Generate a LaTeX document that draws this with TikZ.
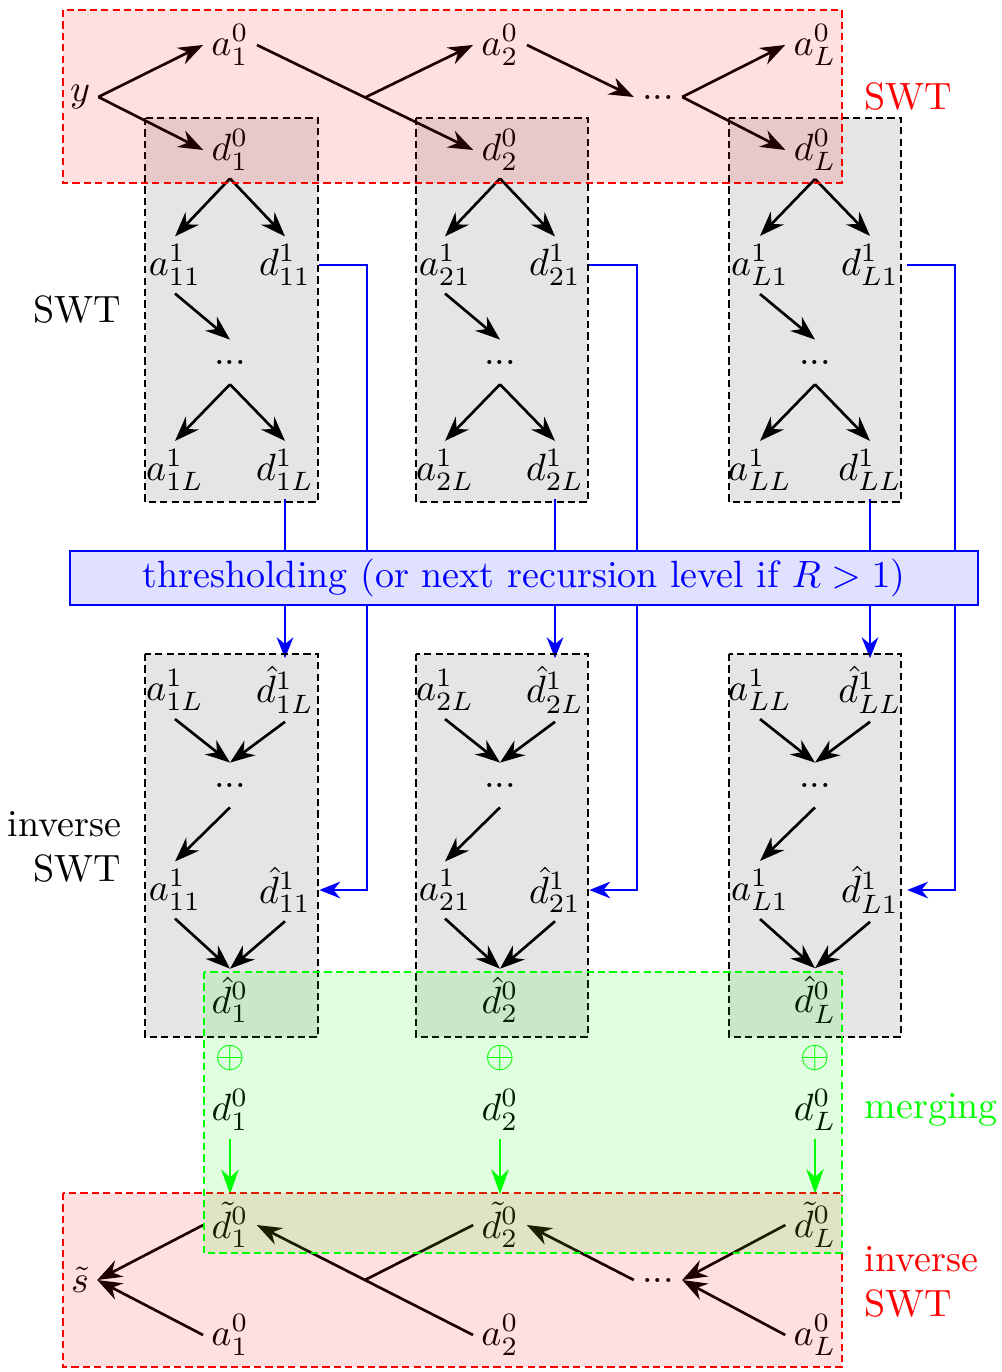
\documentclass[tikz,border=0pt]{standalone}
\usetikzlibrary{arrows.meta,calc,backgrounds}
\begin{document}
\begin{tikzpicture}[x=0.00925cm,y=-0.00925cm,
  mn/.style={inner sep=2pt},
  dt/.style={inner xsep=2pt, inner ysep=0pt, minimum height=0.4cm},
  lbl/.style={inner sep=0pt},
  arr/.style={line width=0.7pt,-{Stealth[length=6.5pt,width=4.8pt]}},
  ln/.style={line width=0.7pt},
  barr/.style={draw=blue,line width=0.55pt,-{Stealth[length=5.5pt,width=4.4pt]}},
  bln/.style={draw=blue,line width=0.55pt},
  garr/.style={draw=green,line width=0.6pt,-{Stealth[length=6.5pt,width=4.6pt]}},
  boxdash/.style={dash pattern=on 1.9pt off 1.1pt, line width=0.55pt},
  greybox/.style={boxdash, draw=black, fill=black, fill opacity=0.1},
  redbox/.style={boxdash, draw=red, fill=red, fill opacity=0.12},
  greenbox/.style={boxdash, draw=green, fill=green, fill opacity=0.12},
]
\useasboundingbox (0,0) rectangle (1001,1372);

% thresholding box
\node[draw=blue, fill=blue!12, text=blue, line width=0.55pt, minimum width=8.4cm,
      minimum height=0.5cm, inner sep=0pt] (thr) at (524,578)
      {thresholding (or next recursion level if $R>1$)};

% top SWT
\node[mn] (y) at (80,97) {$y$};
\foreach \c/\x/\s in {1/230/1,2/500/2,3/815/L}{
  \node[mn] (a0-\c) at (\x,45) {$a_{\s}^0$};
  \node[mn] (d0-\c) at (\x,150) {$d_{\s}^0$};
}
\node[dt] (dots0) at (658,97) {...};
\draw[arr] (y.east) -- (a0-1.west);
\draw[arr] (y.east) -- (d0-1.west);
\draw[arr] (a0-1.east) -- (d0-2.west);
\coordinate (m1) at ($(a0-1.east)!0.5!(d0-2.west)$);
\draw[arr] (m1) -- (a0-2.west);
\draw[arr] (a0-2.east) -- (dots0.west);
\draw[arr] (dots0.east) -- (a0-3.west);
\draw[arr] (dots0.east) -- (d0-3.west);

% columns
\foreach \c/\x/\s in {1/230/1,2/500/2,3/815/L}{
  % forward SWT
  \node[mn] (a11-\c) at (\x-55,265) {$a_{\s1}^1$};
  \node[mn] (d11-\c) at (\x+55,265) {$d_{\s1}^1$};
  \node[dt] (du-\c) at (\x,362) {...};
  \node[mn] (a1L-\c) at (\x-55,470) {$a_{\s L}^1$};
  \node[mn] (d1L-\c) at (\x+55,470) {$d_{\s L}^1$};
  \draw[arr] (d0-\c.south) -- (a11-\c.north);
  \draw[arr] (d0-\c.south) -- (d11-\c.north);
  \draw[arr] (a11-\c.south) -- (du-\c.north);
  \draw[arr] (du-\c.south) -- (a1L-\c.north);
  \draw[arr] (du-\c.south) -- (d1L-\c.north);
  % inverse SWT
  \node[mn] (b1L-\c) at (\x-55,690) {$a_{\s L}^1$};
  \node[mn] (e1L-\c) at (\x+55,690) {$\hat{d}_{\s L}^1$};
  \node[dt] (dl-\c) at (\x,785) {...};
  \node[mn] (b11-\c) at (\x-55,890) {$a_{\s1}^1$};
  \node[mn] (e11-\c) at (\x+55,890) {$\hat{d}_{\s1}^1$};
  \node[mn] (e0-\c) at (\x,1000) {$\hat{d}_{\s}^0$};
  \draw[arr] (b1L-\c.south) -- (dl-\c.north);
  \draw[arr] (e1L-\c.south) -- (dl-\c.north);
  \draw[arr] (dl-\c.south) -- (b11-\c.north);
  \draw[arr] (b11-\c.south) -- (e0-\c.north);
  \draw[arr] (e11-\c.south) -- (e0-\c.north);
  % thresholding connections
  \draw[bln] (d1L-\c.south) -- (d1L-\c.south |- thr.north);
  \draw[barr] (e1L-\c.north |- thr.south) -- (e1L-\c.north);
  \begin{pgfonlayer}{background}
    \draw[barr] (d11-\c.east) -- ++(48,0) |- (e11-\c.east);
  \end{pgfonlayer}
  % merging
  \node[text=green] (op-\c) at (\x,1058) {$\oplus$};
  \node[mn] (f0-\c) at (\x,1110) {$d_{\s}^0$};
  \node[mn] (t0-\c) at (\x,1225) {$\tilde{d}_{\s}^0$};
  \node[mn] (g0-\c) at (\x,1335) {$a_{\s}^0$};
  \draw[garr] (f0-\c.south) -- (t0-\c.north);
}

% bottom inverse SWT
\node[mn] (s) at (80,1280) {$\tilde{s}$};
\node[dt] (dots1) at (658,1280) {...};
\draw[arr] (t0-1.west) -- (s.east);
\draw[arr] (g0-1.west) -- (s.east);
\draw[arr] (g0-2.west) -- (t0-1.east);
\coordinate (m2) at ($(g0-2.west)!0.5!(t0-1.east)$);
\draw[ln] (t0-2.west) -- (m2);
\draw[arr] (dots1.west) -- (t0-2.east);
\draw[arr] (t0-3.west) -- (dots1.east);
\draw[arr] (g0-3.west) -- (dots1.east);

% labels
\node[lbl, text=red, anchor=west] (lswt) at (864,97) {SWT};
\node[lbl, anchor=east] (lswt2) at (122,310) {SWT};
\node[lbl, align=right, anchor=east] (linv) at (122,847) {inverse\\SWT};
\node[lbl, text=green, anchor=west] (lmerge) at (864,1110) {merging};
\node[lbl, text=red, align=left, anchor=west] (linv2) at (864,1282) {inverse\\SWT};

% boxes
\foreach \l/\r in {145/318,416/588,729/901}{
  \draw[greybox] (\l,118) rectangle (\r,502);
  \draw[greybox] (\l,654) rectangle (\r,1037);
}
\draw[redbox] (63,10) rectangle (842,183);
\draw[redbox] (63,1193) rectangle (842,1367);
\draw[greenbox] (204,972) rectangle (842,1253);
\end{tikzpicture}
\end{document}
